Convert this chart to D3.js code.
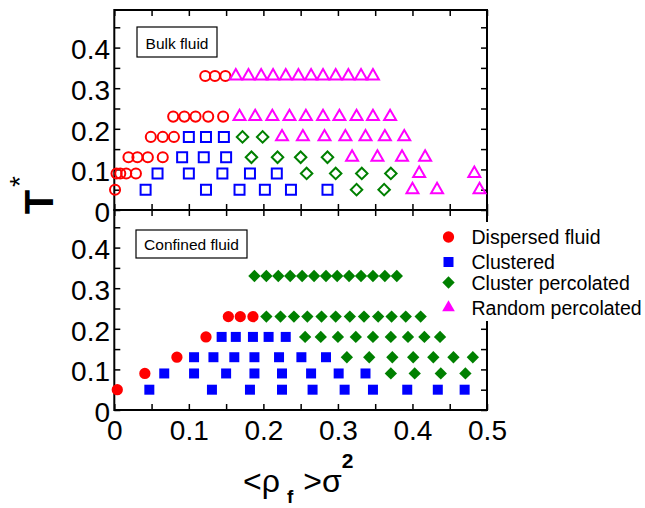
<!DOCTYPE html>
<html>
<head>
<meta charset="utf-8">
<script src="https://cdn.jsdelivr.net/npm/d3@7"></script>
<style>
  body { margin: 0; background: #fff; }
  svg { display: block; }
  text { font-family: "Liberation Sans", Arial, Helvetica, sans-serif; fill: #000; }
</style>
</head>
<body>
<svg id="chart" width="645" height="508"></svg>
<script>
// ---- data: [<rho_f> sigma^2, T*] ----
const bulkDispersed = [
  [0.001, 0.05],
  [0.003, 0.09], [0.008, 0.09], [0.016, 0.09], [0.029, 0.09],
  [0.019, 0.13], [0.031, 0.13], [0.045, 0.13], [0.065, 0.13],
  [0.049, 0.18], [0.065, 0.18], [0.080, 0.18],
  [0.079, 0.23], [0.094, 0.23], [0.109, 0.23], [0.126, 0.23], [0.146, 0.23],
  [0.122, 0.33], [0.135, 0.33], [0.149, 0.33]
];
const bulkClustered = [
  [0.042, 0.05], [0.123, 0.05], [0.168, 0.05], [0.202, 0.05], [0.237, 0.05], [0.286, 0.05],
  [0.058, 0.09], [0.100, 0.09], [0.145, 0.09], [0.182, 0.09], [0.218, 0.09],
  [0.091, 0.13], [0.120, 0.13], [0.150, 0.13],
  [0.100, 0.18], [0.123, 0.18], [0.147, 0.18]
];
const bulkClusterPerc = [
  [0.325, 0.05], [0.362, 0.05],
  [0.258, 0.09], [0.297, 0.09], [0.332, 0.09], [0.371, 0.09],
  [0.184, 0.13], [0.219, 0.13], [0.250, 0.13], [0.286, 0.13],
  [0.172, 0.18], [0.199, 0.18]
];
const bulkRandomPerc = [
  [0.400, 0.05], [0.433, 0.05], [0.490, 0.05],
  [0.409, 0.09], [0.483, 0.09],
  [0.319, 0.13], [0.353, 0.13], [0.386, 0.13], [0.417, 0.13],
  [0.225, 0.18], [0.253, 0.18], [0.282, 0.18], [0.310, 0.18], [0.337, 0.18], [0.363, 0.18], [0.389, 0.18],
  [0.168, 0.23], [0.189, 0.23], [0.212, 0.23], [0.235, 0.23], [0.257, 0.23],
  [0.280, 0.23], [0.302, 0.23], [0.325, 0.23], [0.347, 0.23], [0.370, 0.23],
  [0.163, 0.33], [0.180, 0.33], [0.197, 0.33], [0.213, 0.33], [0.230, 0.33], [0.247, 0.33],
  [0.264, 0.33], [0.280, 0.33], [0.297, 0.33], [0.314, 0.33], [0.331, 0.33], [0.347, 0.33]
];

const confinedDispersed = [
  [0.004, 0.05], [0.041, 0.09], [0.084, 0.13], [0.123, 0.18],
  [0.153, 0.23], [0.169, 0.23], [0.186, 0.23]
];
const confinedClustered = [
  [0.047, 0.05], [0.131, 0.05], [0.182, 0.05], [0.225, 0.05], [0.266, 0.05],
  [0.309, 0.05], [0.347, 0.05], [0.393, 0.05], [0.434, 0.05], [0.470, 0.05],
  [0.067, 0.09], [0.107, 0.09], [0.150, 0.09], [0.188, 0.09], [0.225, 0.09],
  [0.264, 0.09], [0.301, 0.09], [0.337, 0.09],
  [0.107, 0.13], [0.133, 0.13], [0.161, 0.13], [0.188, 0.13], [0.221, 0.13], [0.251, 0.13], [0.284, 0.13],
  [0.144, 0.18], [0.163, 0.18], [0.186, 0.18], [0.207, 0.18], [0.230, 0.18]
];
const confinedClusterPerc = [
  [0.371, 0.09], [0.403, 0.09], [0.438, 0.09], [0.471, 0.09],
  [0.312, 0.13], [0.342, 0.13], [0.373, 0.13], [0.401, 0.13], [0.428, 0.13], [0.455, 0.13], [0.481, 0.13],
  [0.256, 0.18], [0.277, 0.18], [0.300, 0.18], [0.324, 0.18], [0.347, 0.18],
  [0.371, 0.18], [0.394, 0.18], [0.416, 0.18], [0.437, 0.18],
  [0.204, 0.23], [0.223, 0.23], [0.241, 0.23], [0.259, 0.23], [0.278, 0.23], [0.297, 0.23],
  [0.316, 0.23], [0.335, 0.23], [0.354, 0.23], [0.372, 0.23], [0.391, 0.23], [0.411, 0.23],
  [0.188, 0.33], [0.204, 0.33], [0.220, 0.33], [0.236, 0.33], [0.252, 0.33], [0.268, 0.33], [0.284, 0.33],
  [0.299, 0.33], [0.315, 0.33], [0.331, 0.33], [0.347, 0.33], [0.363, 0.33], [0.379, 0.33]
];

const phaseNames  = ["Dispersed fluid", "Clustered", "Cluster percolated", "Random percolated"];
const phaseColors = ["#ff0000", "#0000ff", "#008000", "#ff00ff"];
const panelNames  = ["Bulk fluid", "Confined fluid"];

const xTickValues = [0, 0.05, 0.1, 0.15, 0.2, 0.25, 0.3, 0.35, 0.4, 0.45, 0.5];
const xLabelValues = [0, 0.1, 0.2, 0.3, 0.4, 0.5];
const xTickLabels = ["0", "0.1", "0.2", "0.3", "0.4", "0.5"];
const yTickValues = [0, 0.05, 0.1, 0.15, 0.2, 0.25, 0.3, 0.35, 0.4, 0.45];
const yLabelValues = [0, 0.1, 0.2, 0.3, 0.4];
const yTickLabels = ["0", "0.1", "0.2", "0.3", "0.4"];

// ---- layout ----
const svg = d3.select("#chart");
const left = 114.3, right = 487;
const yMax = 0.4926;
const x = d3.scaleLinear().domain([0, 0.5]).range([left, right]);
const yBulk = d3.scaleLinear().domain([0, yMax]).range([210, 10]);
const yConf = d3.scaleLinear().domain([0, yMax]).range([410, 210]);

const labelOf = (vals, labels) => d => {
  const i = vals.findIndex(v => Math.abs(v - d) < 1e-9);
  return i >= 0 ? labels[i] : "";
};

function styleAxis(g) {
  g.select(".domain").remove();
  g.selectAll(".tick line").attr("stroke", "#000").attr("stroke-width", 1.5);
  g.selectAll(".tick text").attr("font-size", 28).attr("fill", "#000")
    .attr("font-family", "'Liberation Sans', Arial, Helvetica, sans-serif");
}

function drawPanel(y, showXLabels) {
  const [y0, y1] = y.range();
  const g = svg.append("g");
  // inward ticks on all four sides
  g.append("g").attr("transform", `translate(0,${y0})`)
    .call(d3.axisBottom(x).tickValues(xTickValues).tickSizeInner(-6).tickSizeOuter(0).tickPadding(10.5)
      .tickFormat(showXLabels ? labelOf(xLabelValues, xTickLabels) : () => ""))
    .call(styleAxis);
  g.append("g").attr("transform", `translate(0,${y1})`)
    .call(d3.axisTop(x).tickValues(xTickValues).tickSizeInner(-6).tickSizeOuter(0).tickFormat(() => ""))
    .call(styleAxis);
  g.append("g").attr("transform", `translate(${left},0)`)
    .call(d3.axisLeft(y).tickValues(yTickValues).tickSizeInner(-6).tickSizeOuter(0).tickPadding(4.3)
      .tickFormat(labelOf(yLabelValues, yTickLabels)))
    .call(styleAxis)
    .call(a => a.selectAll(".tick text").attr("dy", "0.4em"));
  g.append("g").attr("transform", `translate(${right},0)`)
    .call(d3.axisRight(y).tickValues(yTickValues).tickSizeInner(-6).tickSizeOuter(0).tickFormat(() => ""))
    .call(styleAxis);
  g.append("rect")
    .attr("x", left).attr("y", y1).attr("width", right - left).attr("height", y0 - y1)
    .attr("fill", "none").attr("stroke", "#000").attr("stroke-width", 2);
  return g;
}

// ---- marker shapes ----
const shapes = [
  { type: d3.symbolCircle,   size: 80,  rot: 0 },
  { type: d3.symbolSquare,   size: 100, rot: 0 },
  { type: d3.symbolSquare,   size: 66,  rot: 45 },
  { type: d3.symbolTriangle, size: 62,  rot: 0 }
];
const shapesFilled = [
  { type: d3.symbolCircle,   size: 100, rot: 0 },
  { type: d3.symbolSquare,   size: 100, rot: 0 },
  { type: d3.symbolSquare,   size: 76,  rot: 45 },
  { type: d3.symbolTriangle, size: 70,  rot: 0 }
];

function drawSeries(g, y, data, phase, filled) {
  const s = (filled ? shapesFilled : shapes)[phase];
  const path = d3.symbol().type(s.type).size(s.size)();
  g.append("g").selectAll("path").data(data).join("path")
    .attr("d", path)
    .attr("transform", d => `translate(${x(d[0])},${y(d[1])}) rotate(${s.rot})`)
    .attr("fill", filled ? phaseColors[phase] : "none")
    .attr("stroke", filled ? "none" : phaseColors[phase])
    .attr("stroke-width", filled ? 0 : 2);
}

// ---- top panel: bulk fluid (open markers) ----
const gBulk = drawPanel(yBulk, false);
drawSeries(gBulk, yBulk, bulkDispersed, 0, false);
drawSeries(gBulk, yBulk, bulkClustered, 1, false);
drawSeries(gBulk, yBulk, bulkClusterPerc, 2, false);
drawSeries(gBulk, yBulk, bulkRandomPerc, 3, false);

// ---- bottom panel: confined fluid (filled markers) ----
const gConf = drawPanel(yConf, true);
drawSeries(gConf, yConf, confinedDispersed, 0, true);
drawSeries(gConf, yConf, confinedClustered, 1, true);
drawSeries(gConf, yConf, confinedClusterPerc, 2, true);

// ---- panel captions ----
function caption(text, bx, by, bw, bh, tx, ty) {
  svg.append("rect").attr("x", bx).attr("y", by).attr("width", bw).attr("height", bh)
    .attr("fill", "#fff").attr("stroke", "#000").attr("stroke-width", 1.2);
  svg.append("text").attr("x", tx).attr("y", ty).attr("text-anchor", "middle")
    .attr("font-size", 15.5).text(text);
}
caption(panelNames[0], 137, 27, 80, 30, 177, 49);
caption(panelNames[1], 136, 230, 111, 28, 191.5, 249.5);

// ---- legend (opaque background over the frame edge) ----
const legendY = [237, 262, 282.5, 307.5];
const legend = svg.append("g");
legend.append("rect").attr("x", 436).attr("y", 222).attr("width", 209).attr("height", 99)
  .attr("fill", "#fff");
phaseNames.forEach((name, i) => {
  const s = shapesFilled[i];
  legend.append("path")
    .attr("d", d3.symbol().type(s.type).size(s.size)())
    .attr("transform", `translate(448.5,${legendY[i]}) rotate(${s.rot})`)
    .attr("fill", phaseColors[i]);
  legend.append("text").attr("x", 471.5).attr("y", legendY[i] + 7)
    .attr("font-size", 19.5).text(name);
});

// ---- axis titles ----
const yTitle = svg.append("g").attr("transform", "translate(53,202) rotate(-90)");
yTitle.append("text").attr("x", 0).attr("y", 0).attr("text-anchor", "middle")
  .attr("font-size", 40).attr("font-weight", "bold").text("T");
yTitle.append("text").attr("x", 20.5).attr("y", -24.5).attr("text-anchor", "middle")
  .attr("font-size", 28).text("*");

const xTitle = svg.append("text").attr("x", 243).attr("y", 492).attr("font-size", 32);
xTitle.append("tspan").text("<ρ");
xTitle.append("tspan").attr("dx", 7).attr("dy", 11).attr("font-size", 19).attr("font-weight", "bold").text("f");
xTitle.append("tspan").attr("dx", 10).attr("dy", -11).text(">σ");
xTitle.append("tspan").attr("dx", 0).attr("dy", -24).attr("font-size", 21).attr("font-weight", "bold").text("2");
</script>
</body>
</html>
